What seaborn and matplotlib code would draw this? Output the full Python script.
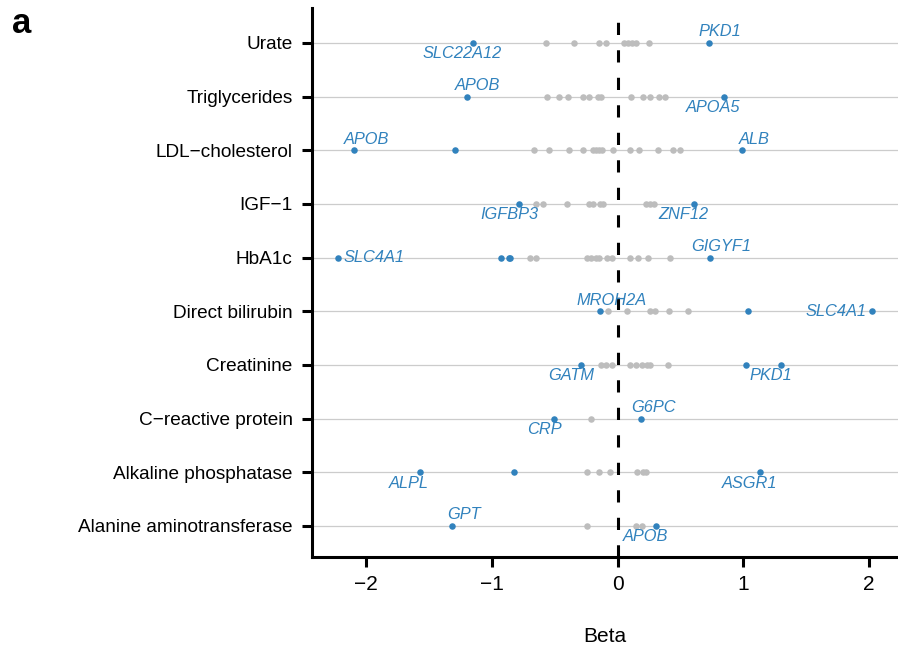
import matplotlib
matplotlib.use("Agg")
import matplotlib.pyplot as plt
import numpy as np
import pandas as pd
import seaborn as sns

# rows, top to bottom
traits = ["Urate", "Triglycerides", "LDL\u2212cholesterol", "IGF\u22121", "HbA1c",
          "Direct bilirubin", "Creatinine", "C\u2212reactive protein",
          "Alkaline phosphatase", "Alanine aminotransferase"]

# non-significant gene effects (grey)
grey_beta = [
    [-0.572, -0.344, -0.144, -0.096, 0.051, 0.081, 0.111, 0.150, 0.246],
    [-0.560, -0.464, -0.398, -0.272, -0.225, -0.159, -0.129, 0.105, 0.201, 0.260, 0.326, 0.374],
    [-0.665, -0.545, -0.389, -0.278, -0.195, -0.168, -0.144, -0.120, -0.039, 0.096, 0.171,
     0.323, 0.443, 0.500],
    [-0.647, -0.593, -0.401, -0.231, -0.198, -0.138, -0.114, 0.225, 0.260, 0.290],
    [-0.695, -0.650, -0.243, -0.210, -0.174, -0.144, -0.084, -0.045, 0.102, 0.159, 0.243, 0.419],
    [-0.075, 0.075, 0.260, 0.299, 0.410, 0.557],
    [-0.129, -0.093, -0.045, 0.102, 0.150, 0.195, 0.231, 0.260, 0.404],
    [-0.210],
    [-0.243, -0.150, -0.063, 0.156, 0.201, 0.225],
    [-0.246, 0.144, 0.192],
]

# significant gene effects (blue) and their gene names ('' = no label)
hit_beta = [
    [-1.147, 0.731],
    [-1.198, 0.844],
    [-2.093, -1.293, 0.988],
    [-0.781, 0.605],
    [-2.222, -0.928, -0.862, -0.853, 0.734],
    [-0.141, 1.036, 2.027],
    [-0.293, 1.024, 1.299],
    [-0.503, 0.189],
    [-1.575, -0.823, 1.132],
    [-1.320, 0.305],
]
hit_gene = [
    ["SLC22A12", "PKD1"],
    ["APOB", "APOA5"],
    ["APOB", "", "ALB"],
    ["IGFBP3", "ZNF12"],
    ["SLC4A1", "", "", "", "GIGYF1"],
    ["MROH2A", "", "SLC4A1"],
    ["GATM", "", "PKD1"],
    ["CRP", "G6PC"],
    ["ALPL", "", "ASGR1"],
    ["GPT", "APOB"],
]

# label placement: (dx px, dy px, ha) per labelled gene
label_pos = {
    (0, "SLC22A12"): (-11, -11, "center"), (0, "PKD1"): (10, 11, "center"),
    (1, "APOB"): (11, 11, "center"), (1, "APOA5"): (-11, -11, "center"),
    (2, "APOB"): (12, 11, "center"), (2, "ALB"): (12, 11, "center"),
    (3, "IGFBP3"): (-10, -11, "center"), (3, "ZNF12"): (-10, -11, "center"),
    (4, "SLC4A1"): (5, 0, "left"), (4, "GIGYF1"): (11, 11, "center"),
    (5, "MROH2A"): (12, 11, "center"), (5, "SLC4A1"): (-6, 0, "right"),
    (6, "GATM"): (-10, -11, "center"), (6, "PKD1"): (-10, -11, "center"),
    (7, "CRP"): (-10, -11, "center"), (7, "G6PC"): (12, 11, "center"),
    (8, "ALPL"): (-11, -11, "center"), (8, "ASGR1"): (-10, -11, "center"),
    (9, "GPT"): (12, 11, "center"), (9, "APOB"): (-10, -11, "center"),
}

GREY = "#bdbdbd"
BLUE = "#3182bd"

grey_df = pd.DataFrame([(t, b) for t, bs in zip(traits, grey_beta) for b in bs],
                       columns=["trait", "beta"])
hit_df = pd.DataFrame([(t, b, g) for t, bs, gs in zip(traits, hit_beta, hit_gene)
                       for b, g in zip(bs, gs)], columns=["trait", "beta", "gene"])

sns.set_style("ticks")
plt.rcParams["font.family"] = ["Liberation Sans", "DejaVu Sans"]
plt.rcParams.update({"text.color": "black", "axes.labelcolor": "black",
                     "xtick.color": "black", "ytick.color": "black",
                     "axes.edgecolor": "black"})

fig = plt.figure(figsize=(8.98, 6.47), dpi=100)
ax = fig.add_axes([312 / 898, 1 - 557 / 647, 1 - 312 / 898, 549 / 647])

# row lines
for i in range(len(traits)):
    ax.axhline(i, color="#cccccc", lw=0.9, zorder=0)

ax.axvline(0, color="black", lw=2.2, dashes=(4, 5), zorder=1)

sns.stripplot(data=grey_df, x="beta", y="trait", order=traits, jitter=False,
              color=GREY, size=4.7, linewidth=0, ax=ax, zorder=2)
sns.stripplot(data=hit_df, x="beta", y="trait", order=traits, jitter=False,
              color=BLUE, size=4.7, linewidth=0, ax=ax, zorder=3)

for i, (bs, gs) in enumerate(zip(hit_beta, hit_gene)):
    for b, g in zip(bs, gs):
        if not g:
            continue
        dx, dy, ha = label_pos[(i, g)]
        ax.annotate(g, xy=(b, i), xytext=(dx, dy), textcoords="offset pixels",
                    ha=ha, va="center", fontsize=11.8, style="italic", color=BLUE,
                    zorder=4)

ax.set_xlim(-2.43, 2.23)
ax.set_ylim(9.58, -0.65)
ax.set_xticks([-2, -1, 0, 1, 2])
ax.set_ylabel("")
ax.set_xlabel("Beta", fontsize=15)
ax.xaxis.set_label_coords(0.5, -0.128)

sns.despine(ax=ax)
for side in ["left", "bottom"]:
    ax.spines[side].set_linewidth(2.2)
ax.tick_params(axis="both", width=2.2, length=7, color="black")
ax.tick_params(axis="y", labelsize=13.7, pad=7)
ax.tick_params(axis="x", labelsize=15, pad=6)

fig.text(0.013, 0.963, "a", fontsize=25, fontweight="bold", va="center")

fig.savefig("out.png", dpi=100)
